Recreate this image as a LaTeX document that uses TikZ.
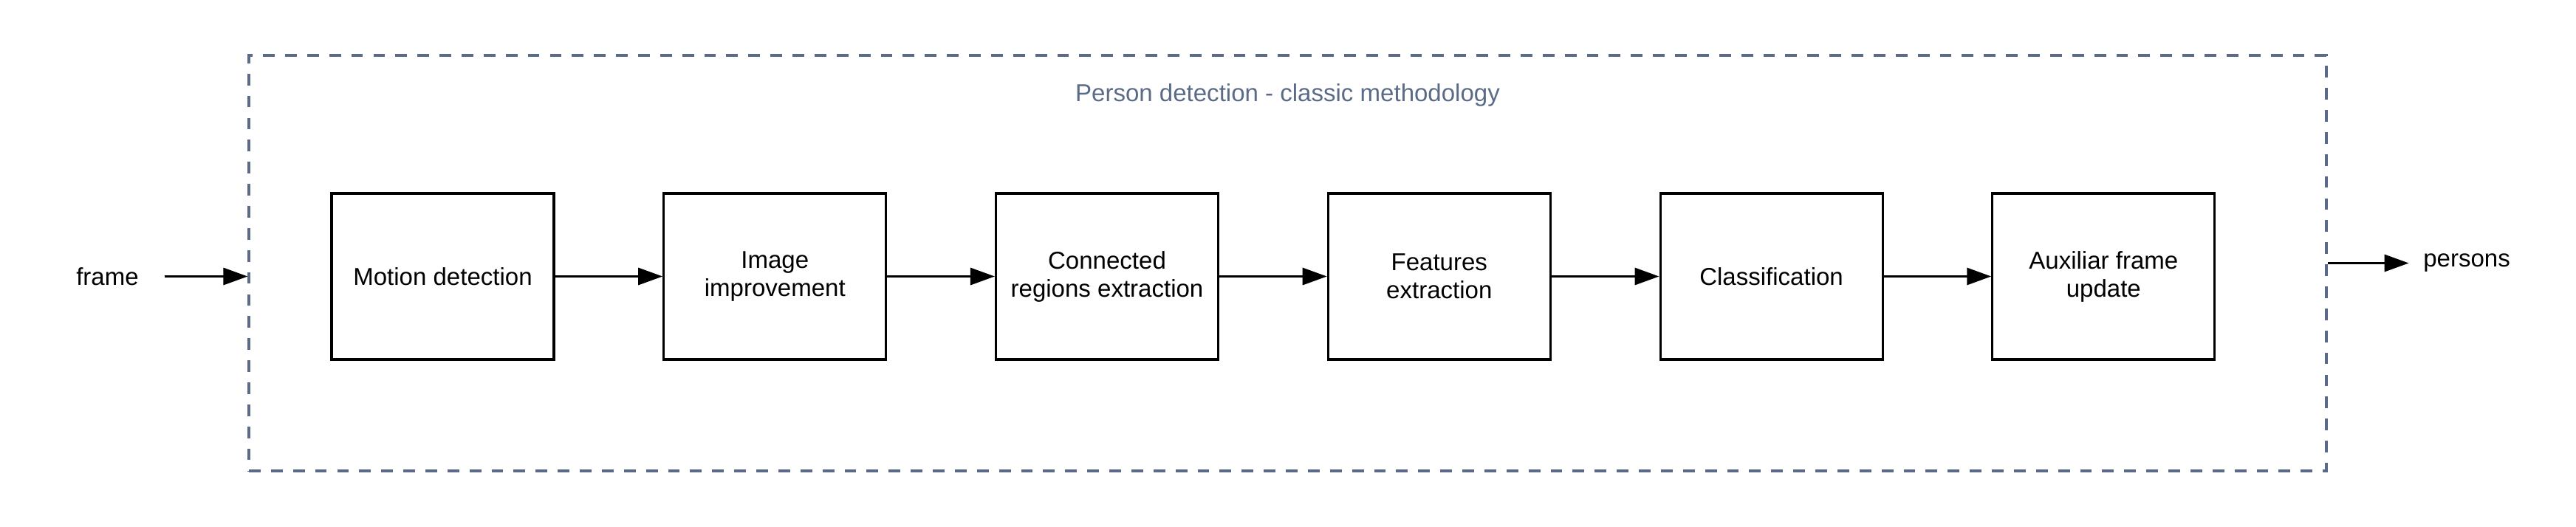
\documentclass[tikz,border=0pt]{standalone}
\usepackage{fontspec}
\setmainfont{Liberation Sans}
\usetikzlibrary{arrows.meta, positioning}
\definecolor{slate}{HTML}{5B6B87}

\begin{document}
\begin{tikzpicture}[
    node distance=1.456cm,
    font=\fontsize{9.4}{10.8}\selectfont,
    box/.style={rectangle, draw, line width=0.9pt, minimum width=3.01cm, minimum height=2.25cm, align=center, inner sep=0pt},
    group/.style={rectangle, draw=slate, dash pattern=on 4.5pt off 4pt, line width=0.9pt, minimum width=28.13cm, minimum height=5.63cm, inner sep=0pt},
    tag/.style={inner xsep=0.35cm, inner ysep=0pt},
    arrow/.style={-{Triangle[length=3.3mm, width=2.3mm]}, line width=0.9pt}
]
    \useasboundingbox (0,0) rectangle (34.88,-7.13);

    % Dashed group
    \node[group] (group) at (17.435,-3.565) {};
    \node[text=slate, anchor=base] (title) at ([yshift=-0.64cm]group.north) {Person detection - classic methodology};

    % Processing steps
    \node[box] (motion) at (5.995,-3.745) {Motion detection};
    \node[box, right=of motion] (improve) {Image\\improvement};
    \node[box, right=of improve] (regions) {Connected\\regions extraction};
    \node[box, right=of regions] (features) {Features\\extraction};
    \node[box, right=of features] (classify) {Classification};
    \node[box, right=of classify] (update) {Auxiliar frame\\update};

    % Input and output
    \coordinate (in) at (group.west |- motion);
    \node[tag, left=1.12cm of in] (frame) {frame};
    \node[tag, inner xsep=0.19cm, right=1.1cm of group.east] (persons) {persons};

    % Arrows
    \draw[arrow] (frame) -- (in);
    \draw[arrow] (motion) -- (improve);
    \draw[arrow] (improve) -- (regions);
    \draw[arrow] (regions) -- (features);
    \draw[arrow] (features) -- (classify);
    \draw[arrow] (classify) -- (update);
    \draw[arrow] (group.east) -- (persons);
\end{tikzpicture}
\end{document}
